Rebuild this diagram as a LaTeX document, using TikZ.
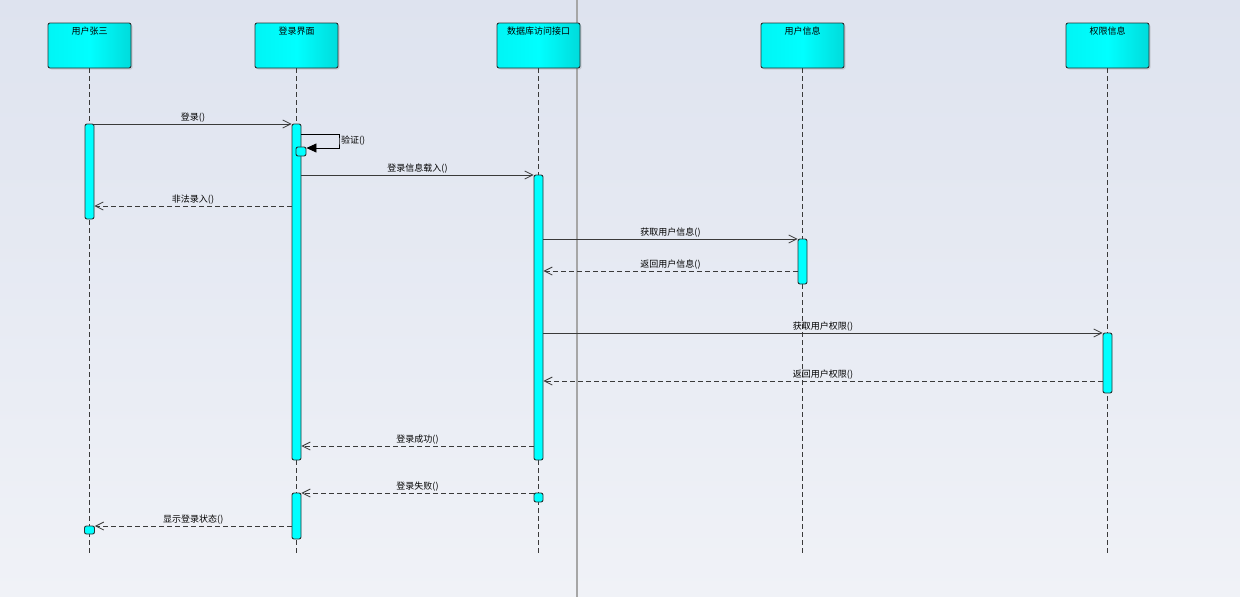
\documentclass[tikz,border=0pt]{standalone}
\usepackage{fontspec}
\setmainfont{Noto Sans CJK SC}
\usetikzlibrary{arrows.meta,shadows}
\definecolor{bgtop}{HTML}{DEE3EF}
\definecolor{bgbot}{HTML}{F0F2F7}
\definecolor{edge}{HTML}{263333}
\definecolor{ink}{HTML}{3A3A3A}
\definecolor{actfill}{HTML}{00FFFF}
\begin{document}
\begin{tikzpicture}[x=1pt, y=-1pt,
    every node/.style={font=\fontsize{9}{11}\selectfont},
    head/.style={draw=edge, line width=0.9pt, rounded corners=2pt, minimum width=83pt, minimum height=45pt,
        left color=cyan!92!teal, right color=cyan!72!teal, middle color=cyan,
        drop shadow={shadow xshift=1.5pt, shadow yshift=-1.5pt, opacity=0.25}},
    life/.style={ink, line width=0.8pt, dash pattern=on 5pt off 3pt},
    act/.style={draw=edge, line width=0.9pt, fill=actfill, rounded corners=2pt, inner sep=0pt, minimum width=9pt},
    call/.style={ink, line width=0.8pt, -{Straight Barb[length=8pt,width=8pt]}},
    reply/.style={call, dash pattern=on 5pt off 3pt},
    lbl/.style={above, inner sep=1pt, text=black}]
% background
\useasboundingbox[top color=bgtop, bottom color=bgbot] (0,0) rectangle (1240,597);
\draw[gray!70, line width=1.8pt] (577,0) -- (577,597);

% heads
\node[head] (zs) at (89.5,45.5) {};
\node[head] (jm) at (296.5,45.5) {};
\node[head] (db) at (538.5,45.5) {};
\node[head] (yh) at (802.5,45.5) {};
\node[head] (qx) at (1107.5,45.5) {};
\node (zsT) at (89.5,31) {用户张三};
\node (jmT) at (296.5,31) {登录界面};
\node (dbT) at (538.5,31) {数据库访问接口};
\node (yhT) at (802.5,31) {用户信息};
\node (qxT) at (1107.5,31) {权限信息};

% lifelines
\foreach \n in {zs,jm,db,yh,qx}
    \draw[life] (\n.south) -- (\n.south |- 0,553);

% activations
\node[act, minimum height=95pt] (zsA) at (89.5,171.5) {};
\node[act, minimum height=8pt, minimum width=10pt] (zsB) at (89.5,530) {};
\node[act, minimum height=336pt] (jmA) at (296.5,292) {};
\node[act, minimum height=9pt, minimum width=10pt] (jmS) at (301,151.5) {};
\node[act, minimum height=46pt] (jmB) at (296.5,516) {};
\node[act, minimum height=285pt] (dbA) at (538.5,317.5) {};
\node[act, minimum height=9pt] (dbB) at (538.5,497.5) {};
\node[act, minimum height=45pt] (yhA) at (802.5,261.5) {};
\node[act, minimum height=60pt] (qxA) at (1107.5,363) {};

% messages
\draw[call] (zsA.east |- 0,124) -- node[lbl] (m1) {登录()} (jmA.west |- 0,124);
\coordinate (selfR) at (339,141);
\draw[black, line width=0.8pt, -{Triangle[length=10pt,width=9pt]}]
    (jmA.east |- 0,134) -| (selfR) |- (jmS.east |- 0,148);
\node[right, inner sep=2pt] (m2) at (selfR) {验证()};
\draw[call] (jmA.east |- 0,175) -- node[lbl] (m3) {登录信息载入()} (dbA.west |- 0,175);
\draw[reply] (jmA.west |- 0,206) -- node[lbl] (m4) {非法录入()} (zsA.east |- 0,206);
\draw[call] (dbA.east |- 0,239) -- node[lbl] (m5) {获取用户信息()} (yhA.west |- 0,239);
\draw[reply] (yhA.west |- 0,271) -- node[lbl] (m6) {返回用户信息()} (dbA.east |- 0,271);
\draw[call] (dbA.east |- 0,333) -- node[lbl] (m7) {获取用户权限()} (qxA.west |- 0,333);
\draw[reply] (qxA.west |- 0,381) -- node[lbl] (m8) {返回用户权限()} (dbA.east |- 0,381);
\draw[reply] (dbA.west |- 0,446) -- node[lbl] (m9) {登录成功()} (jmA.east |- 0,446);
\draw[reply] (dbB.west |- 0,493) -- node[lbl] (m10) {登录失败()} (jmB.east |- 0,493);
\draw[reply] (jmB.west |- 0,526) -- node[lbl] (m11) {显示登录状态()} (zsB.east |- 0,526);
\end{tikzpicture}
\end{document}
